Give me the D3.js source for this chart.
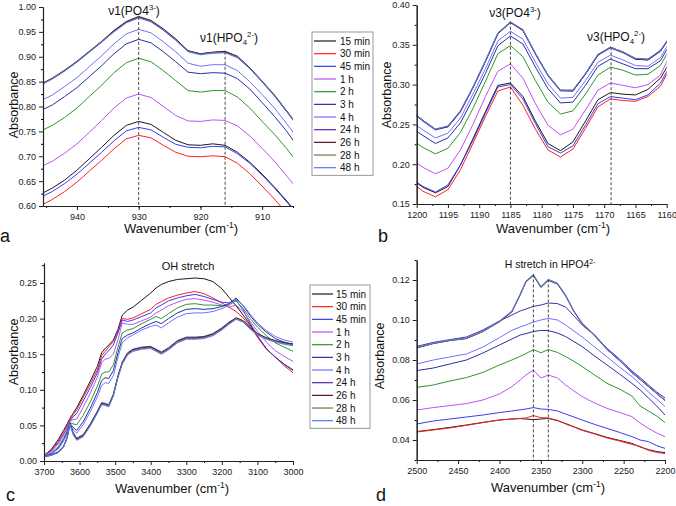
<!DOCTYPE html>
<html>
<head>
<meta charset="utf-8">
<script src="https://cdn.jsdelivr.net/npm/d3@7"></script>
<style>
  body { margin: 0; background: #fff; }
  svg { font-family: "Liberation Sans", Arial, sans-serif; }
</style>
</head>
<body>
<svg id="fig" width="676" height="506"></svg>
<script>
// ---- series (same order in every panel) ----
const seriesNames = ["15 min", "30 min", "45 min", "1 h", "2 h", "3 h", "4 h", "24 h", "26 h", "28 h", "48 h"];
const seriesColors = ["#1a1a1a", "#ff2020", "#3a3af0", "#c050f8", "#2a9a2a", "#2c2ca8",
                      "#7070ff", "#5028b0", "#5a1020", "#6b7a40", "#4a7aff"];

// ---- panel a : v1 region ----
const aWave = [946, 944, 942, 940, 938, 936, 934, 932, 930, 928, 926, 924, 922, 920, 918, 916, 914, 912, 910, 908, 906, 904];
const aValues = [
  [0.623,0.636,0.652,0.672,0.695,0.718,0.742,0.762,0.770,0.764,0.748,0.732,0.723,0.722,0.725,0.722,0.708,0.688,0.664,0.638,0.610,0.580],
  [0.600,0.613,0.629,0.648,0.670,0.692,0.715,0.735,0.742,0.737,0.722,0.708,0.700,0.699,0.701,0.699,0.686,0.665,0.640,0.614,0.585,0.555],
  [0.617,0.629,0.645,0.664,0.686,0.708,0.731,0.751,0.758,0.753,0.738,0.724,0.718,0.717,0.720,0.719,0.705,0.686,0.662,0.636,0.608,0.578],
  [0.678,0.690,0.706,0.725,0.748,0.772,0.797,0.817,0.825,0.818,0.800,0.782,0.771,0.770,0.773,0.772,0.761,0.741,0.716,0.690,0.660,0.630],
  [0.750,0.762,0.778,0.797,0.820,0.843,0.868,0.888,0.897,0.890,0.872,0.852,0.832,0.829,0.832,0.832,0.819,0.797,0.770,0.744,0.715,0.683],
  [0.791,0.803,0.820,0.838,0.860,0.882,0.906,0.926,0.935,0.928,0.910,0.890,0.869,0.866,0.868,0.867,0.856,0.835,0.808,0.780,0.750,0.715],
  [0.811,0.823,0.840,0.858,0.880,0.902,0.926,0.946,0.955,0.948,0.930,0.910,0.887,0.881,0.884,0.884,0.872,0.850,0.824,0.797,0.765,0.732],
  [0.843,0.856,0.872,0.890,0.910,0.930,0.952,0.970,0.980,0.972,0.955,0.935,0.912,0.906,0.909,0.910,0.900,0.877,0.850,0.822,0.790,0.757],
  [0.844,0.857,0.873,0.891,0.911,0.931,0.953,0.971,0.981,0.973,0.956,0.936,0.912,0.906,0.909,0.911,0.901,0.878,0.851,0.823,0.791,0.758],
  [0.843,0.856,0.872,0.890,0.910,0.930,0.951,0.969,0.979,0.971,0.954,0.934,0.911,0.905,0.908,0.909,0.899,0.877,0.850,0.822,0.790,0.757],
  [0.842,0.855,0.871,0.889,0.909,0.929,0.950,0.968,0.978,0.970,0.953,0.933,0.910,0.904,0.907,0.908,0.898,0.876,0.849,0.821,0.789,0.756]
];

// ---- panel b : v3 region ----
const bWave = [1201, 1199, 1197, 1195, 1193, 1191, 1189, 1187, 1185, 1183, 1181, 1179, 1177, 1175, 1173, 1171, 1169, 1167, 1165, 1163, 1161, 1159];
const bValues = [
  [0.182,0.171,0.164,0.172,0.199,0.232,0.266,0.299,0.302,0.285,0.254,0.226,0.217,0.228,0.254,0.281,0.290,0.288,0.287,0.294,0.308,0.335],
  [0.178,0.166,0.159,0.168,0.193,0.226,0.260,0.292,0.297,0.274,0.244,0.218,0.209,0.219,0.245,0.272,0.282,0.280,0.279,0.285,0.298,0.328],
  [0.183,0.172,0.165,0.174,0.199,0.230,0.264,0.297,0.300,0.282,0.251,0.222,0.214,0.223,0.249,0.276,0.285,0.283,0.281,0.287,0.302,0.330],
  [0.207,0.196,0.188,0.195,0.218,0.250,0.285,0.317,0.326,0.308,0.276,0.249,0.237,0.244,0.268,0.293,0.302,0.299,0.296,0.300,0.312,0.345],
  [0.232,0.221,0.213,0.220,0.240,0.270,0.304,0.339,0.349,0.335,0.305,0.278,0.263,0.267,0.288,0.312,0.322,0.318,0.312,0.313,0.324,0.352],
  [0.247,0.236,0.226,0.233,0.252,0.282,0.314,0.349,0.361,0.351,0.322,0.295,0.277,0.278,0.299,0.323,0.332,0.326,0.320,0.320,0.330,0.357],
  [0.254,0.243,0.233,0.239,0.258,0.288,0.320,0.355,0.367,0.357,0.328,0.301,0.283,0.284,0.305,0.328,0.337,0.331,0.324,0.323,0.334,0.360],
  [0.267,0.254,0.243,0.247,0.266,0.296,0.329,0.364,0.378,0.368,0.338,0.311,0.292,0.292,0.313,0.337,0.346,0.340,0.332,0.331,0.342,0.365],
  [0.267,0.255,0.244,0.247,0.266,0.296,0.329,0.364,0.378,0.368,0.339,0.312,0.293,0.292,0.313,0.337,0.347,0.341,0.332,0.331,0.342,0.365],
  [0.268,0.255,0.244,0.248,0.267,0.297,0.330,0.365,0.378,0.369,0.339,0.312,0.293,0.293,0.314,0.338,0.347,0.341,0.333,0.332,0.343,0.366],
  [0.268,0.255,0.244,0.248,0.267,0.297,0.330,0.365,0.379,0.369,0.339,0.312,0.293,0.293,0.314,0.338,0.347,0.341,0.333,0.332,0.343,0.366]
];

// ---- panel c : OH stretch ----
const cWave = [3700, 3680, 3660, 3645, 3635, 3627, 3618, 3608, 3590, 3570, 3550, 3538, 3528, 3518, 3505, 3492, 3480, 3465, 3450,
               3425, 3400, 3385, 3370, 3350, 3325, 3300, 3275, 3250, 3225, 3200, 3180, 3160, 3140, 3120, 3100, 3075, 3050, 3025, 3000];
const cValues = [
  [0.008,0.016,0.030,0.043,0.052,0.060,0.067,0.075,0.092,0.112,0.133,0.152,0.158,0.163,0.170,0.185,0.205,0.212,0.216,0.226,0.236,0.243,0.248,0.252,0.255,0.256,0.257,0.256,0.252,0.242,0.230,0.218,0.205,0.191,0.175,0.158,0.146,0.136,0.128],
  [0.008,0.015,0.028,0.041,0.050,0.058,0.065,0.072,0.089,0.108,0.128,0.148,0.154,0.160,0.168,0.182,0.200,0.199,0.201,0.207,0.213,0.220,0.224,0.229,0.233,0.236,0.238,0.235,0.229,0.222,0.216,0.210,0.201,0.189,0.174,0.157,0.146,0.134,0.124],
  [0.008,0.014,0.026,0.038,0.047,0.056,0.062,0.067,0.084,0.103,0.124,0.143,0.150,0.155,0.163,0.180,0.198,0.196,0.198,0.203,0.208,0.215,0.219,0.225,0.229,0.232,0.234,0.231,0.227,0.223,0.222,0.226,0.212,0.193,0.176,0.158,0.146,0.136,0.127],
  [0.008,0.013,0.024,0.036,0.045,0.056,0.058,0.059,0.075,0.095,0.118,0.138,0.143,0.144,0.150,0.170,0.194,0.192,0.192,0.197,0.202,0.208,0.212,0.218,0.223,0.227,0.228,0.226,0.223,0.219,0.216,0.219,0.210,0.196,0.182,0.167,0.155,0.147,0.140],
  [0.007,0.011,0.020,0.032,0.042,0.054,0.052,0.051,0.064,0.083,0.105,0.122,0.125,0.125,0.135,0.160,0.180,0.184,0.186,0.193,0.199,0.203,0.200,0.207,0.215,0.220,0.221,0.219,0.219,0.218,0.219,0.225,0.214,0.200,0.188,0.176,0.166,0.160,0.154],
  [0.007,0.010,0.018,0.030,0.040,0.053,0.047,0.043,0.055,0.074,0.096,0.113,0.117,0.116,0.127,0.152,0.172,0.177,0.180,0.187,0.193,0.196,0.193,0.200,0.208,0.213,0.214,0.213,0.214,0.217,0.221,0.229,0.218,0.204,0.192,0.181,0.172,0.167,0.164],
  [0.007,0.010,0.017,0.028,0.038,0.052,0.044,0.039,0.051,0.069,0.090,0.106,0.110,0.109,0.120,0.146,0.166,0.173,0.177,0.184,0.189,0.191,0.187,0.194,0.202,0.207,0.208,0.208,0.210,0.214,0.219,0.227,0.219,0.206,0.194,0.183,0.175,0.170,0.167],
  [0.006,0.009,0.013,0.021,0.033,0.053,0.040,0.032,0.037,0.052,0.070,0.082,0.081,0.079,0.094,0.120,0.139,0.152,0.157,0.160,0.161,0.157,0.153,0.159,0.169,0.174,0.174,0.175,0.179,0.187,0.195,0.201,0.197,0.187,0.179,0.173,0.169,0.166,0.164],
  [0.006,0.008,0.012,0.020,0.032,0.052,0.039,0.031,0.036,0.051,0.069,0.081,0.080,0.078,0.093,0.119,0.138,0.151,0.156,0.159,0.160,0.156,0.152,0.158,0.168,0.173,0.173,0.174,0.178,0.186,0.194,0.201,0.197,0.187,0.179,0.173,0.169,0.166,0.164],
  [0.006,0.008,0.012,0.020,0.032,0.052,0.038,0.030,0.035,0.050,0.068,0.080,0.079,0.077,0.092,0.118,0.137,0.150,0.155,0.158,0.159,0.155,0.151,0.157,0.167,0.172,0.172,0.173,0.177,0.185,0.193,0.200,0.196,0.186,0.178,0.172,0.168,0.165,0.163],
  [0.006,0.008,0.012,0.020,0.032,0.052,0.037,0.029,0.034,0.049,0.067,0.079,0.078,0.076,0.091,0.117,0.136,0.149,0.154,0.157,0.158,0.154,0.150,0.156,0.166,0.171,0.171,0.172,0.176,0.184,0.192,0.199,0.195,0.185,0.177,0.171,0.167,0.164,0.162]
];

// ---- panel d : H stretch in HPO4 ----
const dWave = [2500, 2480, 2460, 2440, 2420, 2400, 2385, 2375, 2368, 2359, 2350, 2341, 2330, 2320, 2310, 2300, 2285, 2270, 2255, 2240, 2230, 2220, 2210, 2200];
const dValues = [
  [0.0442,0.0452,0.0463,0.0475,0.0488,0.0500,0.0505,0.0507,0.0505,0.0502,0.0505,0.0508,0.0497,0.0482,0.0466,0.0450,0.0432,0.0413,0.0398,0.0383,0.0365,0.0352,0.0342,0.0337],
  [0.0440,0.0450,0.0460,0.0473,0.0487,0.0500,0.0505,0.0508,0.0510,0.0522,0.0512,0.0510,0.0498,0.0480,0.0465,0.0448,0.0430,0.0410,0.0395,0.0378,0.0368,0.0348,0.0338,0.0332],
  [0.0480,0.0495,0.0505,0.0515,0.0525,0.0537,0.0545,0.0551,0.0555,0.0562,0.0555,0.0553,0.0545,0.0530,0.0515,0.0500,0.0478,0.0458,0.0438,0.0417,0.0400,0.0392,0.0372,0.0358],
  [0.0550,0.0562,0.0572,0.0582,0.0600,0.0630,0.0667,0.0700,0.0725,0.0750,0.0710,0.0725,0.0710,0.0675,0.0645,0.0617,0.0585,0.0558,0.0538,0.0517,0.0485,0.0458,0.0435,0.0417],
  [0.0663,0.0675,0.0695,0.0712,0.0738,0.0775,0.0800,0.0818,0.0832,0.0852,0.0836,0.0852,0.0838,0.0817,0.0793,0.0767,0.0725,0.0683,0.0655,0.0620,0.0570,0.0545,0.0520,0.0487],
  [0.0747,0.0760,0.0780,0.0800,0.0835,0.0875,0.0905,0.0925,0.0932,0.0942,0.0948,0.0947,0.0935,0.0917,0.0892,0.0867,0.0820,0.0775,0.0730,0.0683,0.0650,0.0610,0.0570,0.0525],
  [0.0780,0.0800,0.0815,0.0830,0.0865,0.0912,0.0948,0.0965,0.0975,0.0990,0.1000,0.1008,0.1000,0.0975,0.0945,0.0915,0.0865,0.0815,0.0765,0.0717,0.0680,0.0640,0.0605,0.0567],
  [0.0868,0.0888,0.0902,0.0915,0.0950,0.0995,0.1025,0.1045,0.1055,0.1068,0.1075,0.1085,0.1082,0.1065,0.1020,0.0975,0.0925,0.0858,0.0805,0.0745,0.0712,0.0675,0.0640,0.0610],
  [0.0860,0.0882,0.0897,0.0907,0.0942,0.0991,0.1040,0.1125,0.1190,0.1223,0.1163,0.1198,0.1180,0.1120,0.1041,0.0981,0.0921,0.0852,0.0797,0.0737,0.0702,0.0667,0.0632,0.0597],
  [0.0861,0.0883,0.0898,0.0908,0.0943,0.0993,0.1042,0.1127,0.1192,0.1225,0.1165,0.1200,0.1182,0.1122,0.1043,0.0983,0.0923,0.0853,0.0798,0.0738,0.0703,0.0668,0.0633,0.0598],
  [0.0863,0.0885,0.0900,0.0910,0.0945,0.0995,0.1045,0.1130,0.1195,0.1228,0.1168,0.1203,0.1185,0.1125,0.1045,0.0985,0.0925,0.0855,0.0800,0.0740,0.0705,0.0670,0.0635,0.0600]
];

// ---- tick values ----
const aXTicks = [940, 930, 920, 910];
const aYTicks = [0.60, 0.65, 0.70, 0.75, 0.80, 0.85, 0.90, 0.95, 1.00];
const bXTicks = [1200, 1195, 1190, 1185, 1180, 1175, 1170, 1165, 1160];
const bYTicks = [0.15, 0.20, 0.25, 0.30, 0.35, 0.40];
const cXTicks = [3700, 3600, 3500, 3400, 3300, 3200, 3100, 3000];
const cYTicks = [0.00, 0.05, 0.10, 0.15, 0.20, 0.25];
const dXTicks = [2500, 2450, 2400, 2350, 2300, 2250, 2200];
const dYTicks = [0.04, 0.06, 0.08, 0.10, 0.12];

// dashed band markers: wavenumber and the absorbance where the line starts
const aMarkers = [[930, 0.980], [916, 0.910]];
const bMarkers = [[1185, 0.379], [1168.9, 0.347]];
const dMarkers = [[2359, 0.1228], [2341, 0.1203]];

const svg = d3.select("#fig");

// text with sub/superscript pieces: [text, "sup" | "sub" | ""]
function richText(sel, parts, size) {
  let shift = 0;
  parts.forEach(([t, kind]) => {
    const target = kind === "sup" ? -0.42 * size : kind === "sub" ? 0.28 * size : 0;
    sel.append("tspan")
      .attr("dy", target - shift)
      .attr("font-size", kind ? size * 0.65 : size)
      .text(t);
    shift = target;
  });
}

function drawPanel(p) {
  const g = svg.append("g");
  const x = d3.scaleLinear().domain(p.xDomain).range([p.left, p.right]);
  const y = d3.scaleLinear().domain(p.yDomain).range([p.bottom, p.top]);

  svg.append("clipPath").attr("id", "clip-" + p.id)
    .append("rect")
    .attr("x", p.left).attr("y", p.top)
    .attr("width", p.right - p.left).attr("height", p.bottom - p.top);

  const line = d3.line()
    .x((d, i) => x(p.wave[i]))
    .y(d => y(d));

  g.append("g")
    .attr("clip-path", `url(#clip-${p.id})`)
    .selectAll("path")
    .data(p.values)
    .join("path")
    .attr("d", line)
    .attr("fill", "none")
    .attr("stroke", (d, i) => seriesColors[i])
    .attr("stroke-width", 1);

  // dashed lines at the band positions
  (p.markers || []).forEach(([w, v]) => {
    g.append("line")
      .attr("x1", x(w)).attr("x2", x(w))
      .attr("y1", y(v)).attr("y2", p.bottom)
      .attr("stroke", "#333")
      .attr("stroke-width", 0.9)
      .attr("stroke-dasharray", "3,2");
  });

  // minor ticks first, then the labelled axes
  g.append("g")
    .attr("transform", `translate(0,${p.bottom})`)
    .call(d3.axisBottom(x).tickValues(p.xMinor).tickSize(2).tickFormat("").tickSizeOuter(0));
  g.append("g")
    .attr("transform", `translate(${p.left},0)`)
    .call(d3.axisLeft(y).tickValues(p.yMinor).tickSize(2).tickFormat("").tickSizeOuter(0));

  const xAxis = g.append("g")
    .attr("transform", `translate(0,${p.bottom})`)
    .call(d3.axisBottom(x).tickValues(p.xTicks).tickSize(4).tickPadding(4)
      .tickFormat(d3.format("d")).tickSizeOuter(0));
  const yAxis = g.append("g")
    .attr("transform", `translate(${p.left},0)`)
    .call(d3.axisLeft(y).tickValues(p.yTicks).tickSize(4).tickPadding(3)
      .tickFormat(d3.format(".2f")).tickSizeOuter(0));

  [xAxis, yAxis].forEach(ax => {
    ax.selectAll("text").attr("font-size", 9).attr("fill", "#222")
      .attr("font-family", "Liberation Sans, Arial, sans-serif");
    ax.selectAll("line, path").attr("stroke", "#222");
  });
  g.selectAll(".domain").attr("stroke", "#222").attr("stroke-width", 1.1);

  // axis titles
  const xt = g.append("text")
    .attr("x", p.xTitle[0]).attr("y", p.xTitle[1])
    .attr("text-anchor", "middle").attr("fill", "#111");
  richText(xt, [["Wavenumber (cm", ""], ["-1", "sup"], [")", ""]], 13);

  g.append("text")
    .attr("transform", `translate(${p.yTitle[0]},${p.yTitle[1]}) rotate(-90)`)
    .attr("text-anchor", "middle")
    .attr("font-size", 12.5)
    .attr("fill", "#111")
    .text("Absorbance");

  g.append("text")
    .attr("x", p.letter[0]).attr("y", p.letter[1])
    .attr("font-size", 18)
    .attr("fill", "#111")
    .text(p.id);

  (p.notes || []).forEach(n => {
    const t = g.append("text")
      .attr("x", n.x).attr("y", n.y)
      .attr("text-anchor", "middle").attr("fill", "#111");
    richText(t, n.parts, n.size);
  });
}

function drawLegend(lx, ly, w, lineStart, lineEnd, textX) {
  const g = svg.append("g");
  const step = 12.67;
  g.append("rect")
    .attr("x", lx).attr("y", ly)
    .attr("width", w).attr("height", step * seriesNames.length + 4)
    .attr("fill", "#fff")
    .attr("stroke", "#999")
    .attr("stroke-width", 1);
  seriesNames.forEach((name, i) => {
    const cy = ly + 9 + i * step;
    g.append("line")
      .attr("x1", lineStart).attr("x2", lineEnd)
      .attr("y1", cy).attr("y2", cy)
      .attr("stroke", seriesColors[i]).attr("stroke-width", 1.2);
    g.append("text")
      .attr("x", textX).attr("y", cy + 3.6)
      .attr("font-size", 10).attr("fill", "#111")
      .text(name);
  });
}

const panels = [
  {
    id: "a", wave: aWave, values: aValues,
    xDomain: [945.5, 905], yDomain: [0.6, 1.0],
    left: 43, right: 293, top: 7, bottom: 206,
    xTicks: aXTicks, xMinor: d3.range(945, 904, -5),
    yTicks: aYTicks, yMinor: d3.range(0.625, 1.0, 0.05),
    markers: aMarkers,
    xTitle: [181, 233], yTitle: [18, 105], letter: [0, 242],
    notes: [
      { x: 134, y: 15, size: 12, parts: [["ν1(PO4", ""], ["3-", "sup"], [")", ""]] },
      { x: 229, y: 42, size: 12, parts: [["ν1(HPO", ""], ["4", "sub"], ["2-", "sup"], [")", ""]] }
    ]
  },
  {
    id: "b", wave: bWave, values: bValues,
    xDomain: [1200, 1160], yDomain: [0.15, 0.40],
    left: 416.7, right: 666.7, top: 5, bottom: 204,
    xTicks: bXTicks, xMinor: d3.range(1197.5, 1160, -5),
    yTicks: bYTicks, yMinor: d3.range(0.175, 0.40, 0.05),
    markers: bMarkers,
    xTitle: [553, 233], yTitle: [391, 95], letter: [378, 242],
    notes: [
      { x: 515, y: 17, size: 12, parts: [["ν3(PO4", ""], ["3-", "sup"], [")", ""]] },
      { x: 616, y: 41, size: 12, parts: [["ν3(HPO", ""], ["4", "sub"], ["2-", "sup"], [")", ""]] }
    ]
  },
  {
    id: "c", wave: cWave, values: cValues,
    xDomain: [3700, 3000], yDomain: [0, 0.2781],
    left: 44, right: 293, top: 263, bottom: 461,
    xTicks: cXTicks, xMinor: d3.range(3650, 3000, -100),
    yTicks: cYTicks, yMinor: d3.range(0.025, 0.28, 0.05),
    markers: [],
    xTitle: [172, 493], yTitle: [17.5, 352], letter: [6, 501],
    notes: [
      { x: 188, y: 270, size: 11, parts: [["OH stretch", ""]] }
    ]
  },
  {
    id: "d", wave: dWave, values: dValues,
    xDomain: [2500, 2200], yDomain: [0.03, 0.13],
    left: 416.7, right: 665, top: 260, bottom: 460,
    xTicks: dXTicks, xMinor: d3.range(2475, 2200, -50),
    yTicks: dYTicks, yMinor: d3.range(0.03, 0.131, 0.02),
    markers: dMarkers,
    xTitle: [548, 492], yTitle: [384, 356], letter: [376, 501],
    notes: [
      { x: 550, y: 268, size: 10.5, parts: [["H stretch in HPO4", ""], ["2-", "sup"]] }
    ]
  }
];

panels.forEach(drawPanel);

drawLegend(312, 32, 61, 314, 336, 340);
drawLegend(310, 285, 60, 312, 333, 336);
</script>
</body>
</html>
